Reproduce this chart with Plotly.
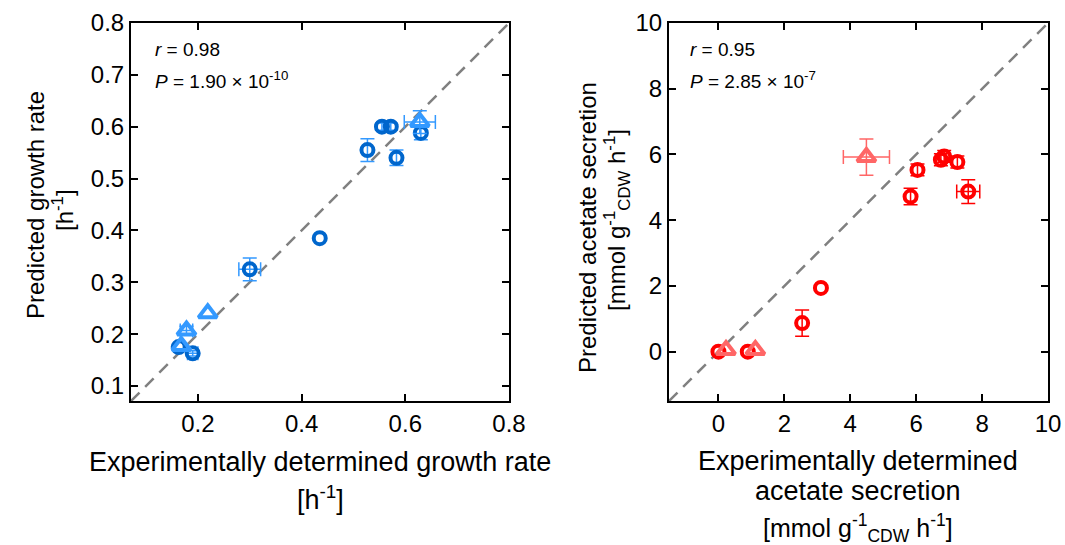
import plotly.graph_objects as go

W, H = 1065, 545
ML, MR, MT, MB = 131, 17, 23, 144
PW, PH = W - ML - MR, H - MT - MB

# ---------------- data ----------------
# Left panel: growth rate [h^-1]
growth_circ_x = [0.163, 0.190, 0.300, 0.435, 0.527, 0.555, 0.572, 0.583, 0.630]
growth_circ_y = [0.175, 0.163, 0.325, 0.385, 0.555, 0.600, 0.600, 0.540, 0.588]
growth_circ_ex = [0.0, 0.010, 0.021, 0.0, 0.0, 0.0, 0.0, 0.0, 0.0]
growth_circ_ey = [0.0, 0.005, 0.022, 0.0, 0.022, 0.007, 0.007, 0.015, 0.013]

growth_tri_x = [0.168, 0.178, 0.219, 0.628]
growth_tri_y = [0.177, 0.207, 0.240, 0.609]
growth_tri_ex = [0.0, 0.012, 0.0, 0.030]
growth_tri_ey = [0.0, 0.008, 0.0, 0.022]

# Right panel: acetate secretion [mmol gCDW^-1 h^-1]
acet_circ_x = [0.00, 0.89, 2.54, 3.11, 5.83, 6.04, 6.75, 6.85, 7.25, 7.58]
acet_circ_y = [0.00, 0.00, 0.87, 1.94, 4.72, 5.53, 5.84, 5.94, 5.77, 4.87]
acet_circ_ex = [0, 0, 0, 0, 0, 0, 0, 0, 0, 0.35]
acet_circ_ey = [0, 0, 0.40, 0, 0.25, 0.18, 0.18, 0.18, 0.18, 0.36]

acet_tri_x = [0.23, 1.12, 4.49]
acet_tri_y = [0.05, 0.05, 5.92]
acet_tri_ex = [0, 0, 0.70]
acet_tri_ey = [0, 0, 0.55]

growth_range = [0.071, 0.8]
growth_ticks = [0.1, 0.2, 0.3, 0.4, 0.5, 0.6, 0.7, 0.8]
growth_xticks = [0.2, 0.4, 0.6, 0.8]
acet_range = [-1.5, 10]
acet_ticks = [0, 2, 4, 6, 8, 10]

stats_left = ["<i>r</i> = 0.98", "<i>P</i> = 1.90 × 10<sup>-10</sup>"]
stats_right = ["<i>r</i> = 0.95", "<i>P</i> = 2.85 × 10<sup>-7</sup>"]

DARK_BLUE = "#0066CC"
LIGHT_BLUE = "#3399FF"
RED = "#FF0000"
LIGHT_RED = "#FF6666"
FONT = "Liberation Sans, Arial, sans-serif"

fig = go.Figure()

dash = dict(color="#808080", width=2.5, dash="12px,8px")
fig.add_trace(go.Scatter(x=growth_range, y=growth_range, mode="lines", line=dash,
                         xaxis="x", yaxis="y", showlegend=False, hoverinfo="skip"))
fig.add_trace(go.Scatter(x=acet_range, y=acet_range, mode="lines", line=dash,
                         xaxis="x2", yaxis="y2", showlegend=False, hoverinfo="skip"))


def err_traces(x, y, ex, ey, ecolor, xa, ya):
    """Error bars only for points that have a spread in that direction."""
    out = []
    iy = [i for i, v in enumerate(ey) if v]
    if iy:
        out.append(go.Scatter(
            x=[x[i] for i in iy], y=[y[i] for i in iy], mode="markers",
            marker=dict(size=1, opacity=0), xaxis=xa, yaxis=ya, showlegend=False,
            hoverinfo="skip",
            error_y=dict(type="data", array=[ey[i] for i in iy], visible=True,
                         color=ecolor, thickness=1.5, width=7)))
    ix = [i for i, v in enumerate(ex) if v]
    if ix:
        out.append(go.Scatter(
            x=[x[i] for i in ix], y=[y[i] for i in ix], mode="markers",
            marker=dict(size=1, opacity=0), xaxis=xa, yaxis=ya, showlegend=False,
            hoverinfo="skip",
            error_x=dict(type="data", array=[ex[i] for i in ix], visible=True,
                         color=ecolor, thickness=1.5, width=7)))
    return out


def marks(x, y, symbol, color, size, xa, ya):
    return go.Scatter(
        x=x, y=y, mode="markers", xaxis=xa, yaxis=ya, showlegend=False,
        marker=dict(symbol=symbol, size=size, color=color, line=dict(width=4, color=color)))


series = [
    (growth_circ_x, growth_circ_y, growth_circ_ex, growth_circ_ey, "circle-open", DARK_BLUE, LIGHT_BLUE, 12, "x", "y"),
    (growth_tri_x, growth_tri_y, growth_tri_ex, growth_tri_ey, "triangle-up-open", LIGHT_BLUE, LIGHT_BLUE, 16, "x", "y"),
    (acet_circ_x, acet_circ_y, acet_circ_ex, acet_circ_ey, "circle-open", RED, RED, 12, "x2", "y2"),
    (acet_tri_x, acet_tri_y, acet_tri_ex, acet_tri_ey, "triangle-up-open", LIGHT_RED, LIGHT_RED, 16, "x2", "y2"),
]
for x, y, ex, ey, sym, col, ecol, sz, xa, ya in series:
    for t in err_traces(x, y, ex, ey, ecol, xa, ya):
        fig.add_trace(t)
    fig.add_trace(marks(x, y, sym, col, sz, xa, ya))

axis_common = dict(showline=True, linecolor="black", linewidth=2, mirror="ticks",
                   ticks="inside", ticklen=7, tickwidth=2, tickcolor="black",
                   showgrid=False, zeroline=False, automargin=False,
                   tickfont=dict(family=FONT, size=24, color="black"))

fig.update_layout(
    width=W, height=H, autosize=False,
    margin=dict(l=ML, r=MR, t=MT, b=MB, pad=0),
    paper_bgcolor="white", plot_bgcolor="white",
    xaxis=dict(domain=[0, (509 - ML) / PW], range=growth_range, tickvals=growth_xticks,
               ticktext=[f"{v:.1f}" for v in growth_xticks], anchor="y", **axis_common),
    yaxis=dict(domain=[0, 1], range=growth_range, tickvals=growth_ticks,
               ticktext=[f"{v:.1f}" for v in growth_ticks], anchor="x", **axis_common),
    xaxis2=dict(domain=[(669 - ML) / PW, 1], range=acet_range, tickvals=acet_ticks,
                ticktext=[str(v) for v in acet_ticks], anchor="y2", **axis_common),
    yaxis2=dict(domain=[0, 1], range=acet_range, tickvals=acet_ticks,
                ticktext=[str(v) for v in acet_ticks], anchor="x2", **axis_common),
)


def ann(text, px, py, size, angle=0, xanchor="center"):
    fig.add_annotation(text=text, x=(px - ML) / PW, y=(H - MB - py) / PH,
                       xref="paper", yref="paper",
                       showarrow=False, textangle=angle, xanchor=xanchor, yanchor="middle",
                       font=dict(family=FONT, size=size, color="black"))


unit = "[mmol g<sup>-1</sup><sub>CDW</sub> h<sup>-1</sup>]"
# axis titles
ann("Experimentally determined growth rate", 320, 462, 27)
ann("[h<sup>-1</sup>]", 320, 498, 27)
ann("Predicted growth rate", 35, 205, 24, angle=-90)
ann("[h<sup>-1</sup>]", 63, 210, 24, angle=-90)

ann("Experimentally determined", 858, 461, 27)
ann("acetate secretion", 858, 491, 27)
ann(unit, 858, 528, 25)
ann("Predicted acetate secretion", 587, 228, 24, angle=-90)
ann(unit, 617, 220, 24, angle=-90)

# stats
ann(stats_left[0], 153, 50, 19, xanchor="left")
ann(stats_left[1], 153, 80, 19, xanchor="left")
ann(stats_right[0], 688, 50, 19, xanchor="left")
ann(stats_right[1], 688, 80, 19, xanchor="left")

fig.write_html("out.html")
